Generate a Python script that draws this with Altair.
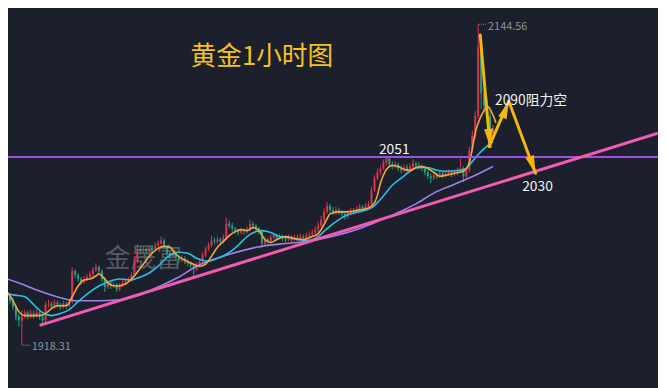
import altair as alt
import pandas as pd

# ---------------- data (gold, 1-hour candles) ----------------
idx = list(range(167))
opens = [1960.8,1959.4,1958.0,1953.8,1949.7,1945.5,1938.5,1935.7,1938.5,1941.3,
 1938.5,1940.6,1939.2,1941.3,1938.5,1935.7,1946.9,1947.6,1945.5,1948.3,
 1946.9,1945.5,1947.6,1946.2,1949.0,1970.6,1967.8,1965.0,1962.9,1965.0,
 1966.4,1968.5,1971.2,1973.3,1970.6,1965.0,1959.4,1962.2,1960.1,1960.8,
 1958.0,1960.8,1962.2,1963.6,1964.3,1967.8,1977.5,1985.9,1984.5,1985.9,
 1984.5,1986.6,1985.9,1988.7,1990.0,1992.1,1987.3,1983.1,1981.0,1982.4,
 1980.3,1978.2,1979.6,1977.5,1976.1,1974.7,1971.9,1974.7,1977.5,1981.7,
 1985.9,1988.7,1992.1,1991.4,1992.8,1991.4,1994.2,2004.0,2002.6,2000.5,
 1999.1,1997.7,1999.1,1998.4,1999.8,2004.0,2002.6,2000.5,1998.4,1990.0,
 1992.8,1991.4,1994.2,1995.6,1994.2,1994.9,1993.5,1992.8,1994.2,1992.8,
 1994.2,1993.5,1994.9,1994.2,1995.6,1996.3,1997.7,1999.8,2002.6,2006.8,
 2012.3,2016.5,2013.7,2012.3,2013.7,2012.3,2010.9,2009.5,2011.6,2013.0,
 2012.3,2014.4,2015.8,2015.1,2016.5,2017.9,2027.6,2036.0,2040.2,2042.9,
 2047.1,2049.9,2045.7,2044.3,2045.7,2042.9,2041.6,2043.6,2042.2,2044.3,
 2046.4,2045.0,2044.3,2042.9,2040.2,2037.4,2036.0,2038.1,2037.4,2039.5,
 2038.1,2038.8,2040.2,2038.8,2040.2,2041.6,2042.9,2037.4,2041.6,2055.5,
 2065.9,2079.9,2128.6,2095.9,2086.8,2079.9,2068.0]
closes = [1959.4,1958.0,1953.8,1949.7,1945.5,1938.5,1935.7,1938.5,1941.3,1938.5,
 1940.6,1939.2,1941.3,1938.5,1935.7,1946.9,1947.6,1945.5,1948.3,1946.9,
 1945.5,1947.6,1946.2,1949.0,1970.6,1967.8,1965.0,1962.9,1965.0,1966.4,
 1968.5,1971.2,1973.3,1970.6,1965.0,1959.4,1962.2,1960.1,1960.8,1958.0,
 1960.8,1962.2,1963.6,1964.3,1967.8,1977.5,1985.9,1984.5,1985.9,1984.5,
 1986.6,1985.9,1988.7,1990.0,1992.1,1987.3,1983.1,1981.0,1982.4,1980.3,
 1978.2,1979.6,1977.5,1976.1,1974.7,1971.9,1974.7,1977.5,1981.7,1985.9,
 1988.7,1992.1,1991.4,1992.8,1991.4,1994.2,2004.0,2002.6,2000.5,1999.1,
 1997.7,1999.1,1998.4,1999.8,2004.0,2002.6,2000.5,1998.4,1990.0,1992.8,
 1991.4,1994.2,1995.6,1994.2,1994.9,1993.5,1992.8,1994.2,1992.8,1994.2,
 1993.5,1994.9,1994.2,1995.6,1996.3,1997.7,1999.8,2002.6,2006.8,2012.3,
 2016.5,2013.7,2012.3,2013.7,2012.3,2010.9,2009.5,2011.6,2013.0,2012.3,
 2014.4,2015.8,2015.1,2016.5,2017.9,2027.6,2036.0,2040.2,2042.9,2047.1,
 2049.9,2045.7,2044.3,2045.7,2042.9,2041.6,2043.6,2042.2,2044.3,2046.4,
 2045.0,2044.3,2042.9,2040.2,2037.4,2036.0,2038.1,2037.4,2039.5,2038.1,
 2038.8,2040.2,2038.8,2040.2,2041.6,2042.9,2037.4,2041.6,2055.5,2065.9,
 2079.9,2128.6,2095.9,2086.8,2079.9,2068.0,2071.5]
highs = [1962.9,1961.5,1959.4,1955.2,1951.8,1946.9,1940.6,1942.7,1943.4,1942.7,
 1943.4,1942.7,1944.1,1942.7,1940.6,1949.0,1950.4,1949.0,1950.4,1949.7,
 1948.3,1949.7,1949.0,1951.1,1973.3,1971.9,1969.2,1966.4,1967.1,1968.5,
 1970.6,1973.3,1976.1,1974.7,1971.9,1966.4,1963.6,1963.6,1962.9,1962.2,
 1962.2,1964.3,1965.7,1966.4,1969.9,1980.3,1989.4,1988.0,1988.0,1987.3,
 1988.7,1988.7,1990.7,1992.1,1994.9,1993.5,1988.7,1984.5,1984.5,1983.8,
 1981.7,1981.7,1981.0,1978.9,1977.5,1976.1,1976.8,1979.6,1983.8,1988.0,
 1990.7,1995.6,1994.2,1994.9,1994.2,1996.3,2008.1,2006.1,2004.7,2001.9,
 2000.5,2001.2,2000.5,2001.9,2006.8,2005.4,2004.0,2001.9,1999.8,1994.9,
 1994.2,1996.3,1997.7,1997.0,1997.0,1996.3,1995.6,1996.3,1995.6,1996.3,
 1996.3,1997.0,1996.3,1997.7,1998.4,1999.8,2001.9,2005.4,2009.5,2015.1,
 2019.3,2017.9,2015.8,2015.8,2015.1,2013.7,2013.0,2013.7,2015.1,2015.1,
 2016.5,2017.9,2017.2,2018.6,2020.0,2029.7,2038.1,2042.9,2045.0,2049.2,
 2051.3,2050.5,2047.8,2047.8,2047.1,2045.0,2045.7,2045.7,2046.4,2049.2,
 2047.8,2047.1,2045.7,2044.3,2041.6,2039.5,2040.2,2040.2,2041.6,2040.9,
 2040.9,2042.2,2041.6,2042.2,2043.6,2049.9,2044.3,2043.6,2058.3,2069.4,
 2083.3,2144.56,2132.1,2104.2,2091.7,2083.3,2073.6]
lows = [1957.3,1955.9,1951.8,1947.6,1943.4,1935.7,1931.6,1918.31,1937.1,1936.4,
 1937.1,1937.1,1937.8,1936.4,1932.3,1934.4,1944.8,1943.4,1944.1,1944.8,
 1943.4,1944.1,1944.1,1944.8,1947.6,1965.7,1962.9,1960.8,1961.5,1963.6,
 1965.0,1967.1,1969.9,1968.5,1962.9,1955.9,1958.0,1958.0,1958.7,1955.9,
 1956.6,1959.4,1960.8,1962.2,1962.9,1966.4,1976.1,1982.4,1983.1,1982.4,
 1983.1,1983.8,1984.5,1987.3,1988.7,1985.9,1981.0,1978.9,1979.6,1978.2,
 1976.1,1976.8,1975.4,1974.0,1972.6,1965.7,1970.6,1973.3,1976.1,1980.3,
 1984.5,1987.3,1989.4,1990.0,1989.4,1990.0,1992.8,2000.5,1998.4,1997.0,
 1995.6,1996.3,1996.3,1997.0,1998.4,2000.5,1998.4,1996.3,1987.3,1988.7,
 1989.4,1990.0,1992.8,1992.1,1992.8,1991.4,1990.7,1991.4,1990.7,1991.4,
 1991.4,1992.1,1992.1,1992.8,1993.5,1994.9,1996.3,1997.7,2001.2,2004.7,
 2010.9,2011.6,2010.2,2010.2,2010.2,2008.8,2006.8,2007.4,2009.5,2010.2,
 2010.9,2013.0,2013.0,2013.7,2015.1,2016.5,2026.2,2034.6,2038.1,2041.6,
 2045.0,2043.6,2042.2,2042.9,2040.9,2039.5,2040.2,2040.2,2040.9,2042.9,
 2042.9,2042.2,2040.9,2038.1,2035.3,2032.5,2034.6,2035.3,2036.0,2036.0,
 2036.7,2037.4,2036.7,2037.4,2038.1,2040.2,2033.2,2035.3,2040.2,2054.1,
 2063.8,2077.8,2084.7,2081.9,2075.0,2065.2,2066.6]

# moving averages
ma_fast_idx = [0,2,4,6,8,10,13,15,17,19,22,24,26,28,30,32,33,35,37,39,42,44,46,48,50,
 53,55,57,59,62,65,67,69,71,73,75,77,79,81,83,85,87,89,91,93,96,99,102,105,107,108,
 110,111,114,117,121,124,126,127,128,129,130,132,134,136,138,140,142,144,146,148,150,
 153,156,158,159,160,161,162,163,164,165,166,167]
ma_fast = [1959.4,1955.9,1949.7,1942.0,1939.2,1939.2,1939.2,1940.6,1944.1,1946.2,
 1946.2,1952.5,1960.1,1964.3,1965.0,1967.1,1968.5,
 1965.0,1960.8,1960.1,1961.5,1965.0,1969.9,1975.4,1981.0,
 1986.6,1988.0,1987.3,1982.4,1978.2,1975.4,1974.0,1975.4,1981.0,1987.3,1991.4,1995.6,1998.4,
 1999.8,1999.1,2001.2,1999.1,1992.8,1990.7,1992.8,1994.9,1993.5,1992.8,1994.9,1997.0,1999.8,
 2007.4,2010.9,2012.3,2012.3,2013.7,2015.1,2018.6,2024.1,2032.5,2038.1,2042.2,
 2045.0,2044.3,2042.2,2041.6,2043.6,2044.3,2042.9,2040.2,2037.4,2038.1,
 2039.5,2040.9,2047.1,2056.9,2068.0,2075.0,2079.9,2084.0,2086.8,2084.7,2080.5,2075.0]
ma_mid_idx = [0,4,8,11,14,17,20,23,26,30,33,36,40,44,46,50,53,56,60,63,66,70,73,76,80,
 83,86,88,91,94,97,100,103,107,110,114,117,122,125,129,132,135,138,141,144,147,150,
 155,157,159,161,163,165,166]
ma_mid = [1955.9,1953.8,1952.5,1946.9,1941.3,1939.2,1940.6,1943.4,1949.0,1955.9,
 1960.1,1962.9,1965.0,1964.3,1965.7,1969.2,1974.0,1980.3,1983.8,1983.1,
 1979.6,1977.5,1979.6,1982.4,1988.7,1994.9,1998.4,1999.1,1997.7,1994.9,
 1994.2,1992.8,1992.1,1994.9,2000.5,2006.8,2010.2,2013.0,2015.1,2023.5,
 2031.1,2036.0,2040.9,2043.6,2043.6,2041.6,2040.9,2041.6,2042.9,2047.8,
 2052.7,2056.9,2060.4,2061.7]
ma_slow_idx = [0,6,13,20,25,33,40,46,53,60,66,76,86,96,103,113,120,126,133,140,146,153,160,166]
ma_slow = [1966.4,1962.2,1956.6,1951.8,1949.7,1949.7,1950.4,1953.2,1959.4,1966.4,1974.0,
 1981.7,1987.3,1990.0,1991.4,1995.6,1999.8,2004.7,2010.9,2017.9,2025.5,2031.8,2038.1,2044.3]

level_price = [2051]
trend_idx = [13, 221.67]
trend_price = [1932.3, 2067.7]

arrow_from_idx = [161.67, 164.67, 171.33]
arrow_from_price = [2136.9, 2058.3, 2090.3]
arrow_to_idx = [165.0, 171.33, 180.33]
arrow_to_price = [2058.3, 2090.3, 2039.5]
arrow_angle = [175, 21, 161]

# ---------------- styling ----------------
BG = "#1b202c"
RED = "#d9364c"
GREEN = "#1aa586"
FONT = "Noto Sans CJK SC"
GOLD = "#f5b70a"

xs = alt.Scale(domain=[2.3333, 221.6667], nice=False, zero=False)
ys = alt.Scale(domain=[1889.81, 2154.33], nice=False, zero=False)

candles = pd.DataFrame({"i": idx, "open": opens, "high": highs,
                        "low": lows, "close": closes})
candles["dir"] = ["up" if c >= o else "down" for o, c in zip(opens, closes)]
dir_color = alt.Color("dir:N", scale=alt.Scale(domain=["up", "down"], range=[RED, GREEN]), legend=None)

base = alt.Chart(candles)
wicks = base.mark_rule(strokeWidth=1, clip=True).encode(
    x=alt.X("i:Q", scale=xs, axis=None),
    y=alt.Y("low:Q", scale=ys, axis=None),
    y2="high:Q", color=dir_color)
bodies = base.mark_rule(strokeWidth=2, clip=True).encode(
    x=alt.X("i:Q", scale=xs, axis=None),
    y=alt.Y("open:Q", scale=ys, axis=None),
    y2="close:Q", color=dir_color)

def ma_line(ix, vals, color, w=1.6):
    df = pd.DataFrame({"i": ix, "p": vals})
    return alt.Chart(df).mark_line(color=color, strokeWidth=w, interpolate="monotone", clip=True).encode(
        x=alt.X("i:Q", scale=xs, axis=None), y=alt.Y("p:Q", scale=ys, axis=None))

slow = ma_line(ma_slow_idx, ma_slow, "#9c82ea")
mid = ma_line(ma_mid_idx, ma_mid, "#28c2e4")
fast = ma_line(ma_fast_idx, ma_fast, "#f7a53c")

level = alt.Chart(pd.DataFrame({"p": level_price})).mark_rule(color="#9d4fe3", strokeWidth=2).encode(
    y=alt.Y("p:Q", scale=ys, axis=None))

trend = alt.Chart(pd.DataFrame({"i": trend_idx, "p": trend_price})).mark_line(
    color="#f35ab1", strokeWidth=3, clip=True).encode(
    x=alt.X("i:Q", scale=xs, axis=None), y=alt.Y("p:Q", scale=ys, axis=None))

arrows_df = pd.DataFrame({"i1": arrow_from_idx, "p1": arrow_from_price,
                          "i2": arrow_to_idx, "p2": arrow_to_price, "ang": arrow_angle})
arrow_lines = alt.Chart(arrows_df).mark_rule(color=GOLD, strokeWidth=3, strokeCap="round").encode(
    x=alt.X("i1:Q", scale=xs, axis=None), y=alt.Y("p1:Q", scale=ys, axis=None),
    x2="i2:Q", y2="p2:Q")
arrow_heads = alt.Chart(arrows_df).mark_point(
    shape="M0,0L0.5,2L-0.5,2Z", filled=True, size=324, color=GOLD, opacity=1).encode(
    x=alt.X("i2:Q", scale=xs, axis=None), y=alt.Y("p2:Q", scale=ys, axis=None),
    angle=alt.Angle("ang:Q", scale=None))

def text_layer(rows, **kw):
    df = pd.DataFrame(rows, columns=["i", "p", "t"])
    return alt.Chart(df).mark_text(font=FONT, baseline="middle", **kw).encode(
        x=alt.X("i:Q", scale=xs, axis=None), y=alt.Y("p:Q", scale=ys, axis=None), text="t:N")

watermark = text_layer([[48, 1979.2, "金晟富"]], fontSize=26, color="#555a64", align="center")
title = text_layer([[88, 2121.6, "黄金1小时图"]], fontSize=26, color="#f7c21b", align="center")
labels = text_layer([[132.67, 2056.2, "2051"], [181, 2029.7, "2030"]],
                    fontSize=14, color="#f2f2f2", align="center")
label_res = text_layer([[166.67, 2090.3, "2090阻力空"]], fontSize=14, color="#f2f2f2", align="left")
extremes = text_layer([[164.33, 2142.5, "2144.56"], [10.33, 1917.0, "1918.31"]],
                      fontSize=11, color="#8d929b", align="left")
leaders = alt.Chart(pd.DataFrame({"i1": [161.3, 7.3], "i2": [164.0, 10.0],
                                  "p": [2144.56, 1918.31]})).mark_rule(
    color="#8d929b", strokeWidth=1, strokeDash=[1, 1]).encode(
    x=alt.X("i1:Q", scale=xs, axis=None), x2="i2:Q", y=alt.Y("p:Q", scale=ys, axis=None))

chart = alt.layer(
    watermark, wicks, bodies, slow, mid, fast, level, trend,
    arrow_lines, arrow_heads, title, labels, label_res, extremes, leaders
).properties(
    width=658, height=380, background=BG, padding=0,
    autosize=alt.AutoSizeParams(type="none")
).configure_view(stroke=None)

chart.save("out.html", embed_options={"renderer": "svg", "actions": False})
